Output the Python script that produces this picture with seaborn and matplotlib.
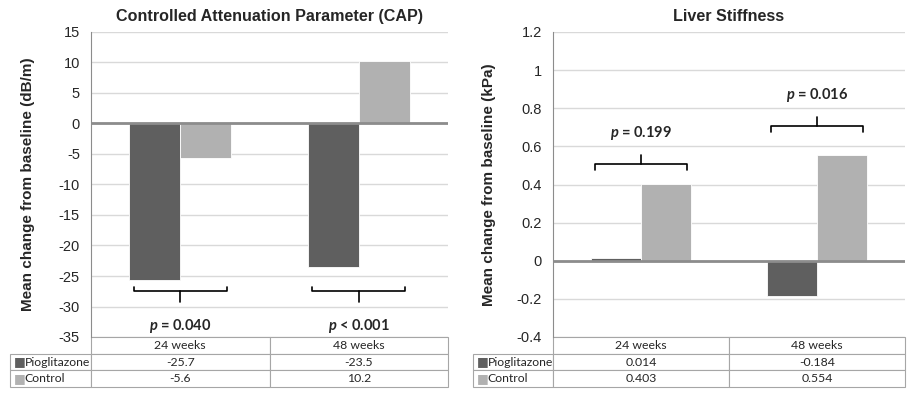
import matplotlib
matplotlib.use("Agg")
from matplotlib import pyplot as plt
import seaborn as sns
import pandas as pd

timepoints = ["24 weeks", "48 weeks"]
groups = ["Pioglitazone", "Control"]
cap_pio = [-25.7, -23.5]
cap_ctrl = [-5.6, 10.2]
ls_pio = [0.014, -0.184]
ls_ctrl = [0.403, 0.554]
cap_labels = [["-25.7", "-23.5"], ["-5.6", "10.2"]]
ls_labels = [["0.014", "-0.184"], ["0.403", "0.554"]]
cap_p = ["= 0.040", "< 0.001"]
ls_p = ["= 0.199", "= 0.016"]

sns.set_style("white")
plt.rcParams["font.family"] = ["Liberation Sans", "DejaVu Sans"]
plt.rcParams["mathtext.fontset"] = "custom"
plt.rcParams["mathtext.bfit"] = "Lato:italic:bold"
plt.rcParams["mathtext.it"] = "Lato:italic"
plt.rcParams["mathtext.rm"] = "Lato"

colors = {"Pioglitazone": "#5f5f5f", "Control": "#b1b1b1"}


def make_df(pio, ctrl):
    rows = []
    for i, t in enumerate(timepoints):
        rows.append({"Time": t, "Group": "Pioglitazone", "Value": pio[i]})
        rows.append({"Time": t, "Group": "Control", "Value": ctrl[i]})
    return pd.DataFrame(rows)


def draw_panel(ax, df, title, ylabel, ylim, step, table_text, pvals, brk, lab_w, lpad):
    sns.barplot(data=df, x="Time", y="Value", hue="Group", palette=colors,
                hue_order=groups, width=0.57, edgecolor="white", linewidth=0.6,
                ax=ax, legend=False)
    ax.set_xlim(-0.5, 1.5)
    ax.set_ylim(*ylim)
    ticks = []
    v = ylim[0]
    while v <= ylim[1] + 1e-9:
        ticks.append(round(v, 2))
        v += step
    ax.set_yticks(ticks)
    ax.set_yticklabels([("%g" % t) for t in ticks], fontsize=10.5)
    ax.tick_params(axis="y", length=0, pad=8)
    ax.set_xticks([])
    ax.set_xlabel("")
    ax.grid(axis="y", color="#d9d9d9", linewidth=1)
    ax.set_axisbelow(True)
    ax.axhline(0, color="#8c8c8c", linewidth=2, zorder=3)
    for s in ["top", "right", "bottom"]:
        ax.spines[s].set_visible(False)
    ax.spines["left"].set_color("#8c8c8c")
    ax.set_title(title, fontsize=11.6, fontweight="bold", pad=8)
    ax.set_ylabel(ylabel, fontsize=11, fontweight="bold", labelpad=lpad)

    # significance brackets
    y0, arm, tick, ty = brk
    for i, p in enumerate(pvals):
        y = y0[i]
        ax.plot([i - 0.26, i - 0.26, i + 0.26, i + 0.26],
                [y + arm, y, y, y + arm], color="black", lw=1.2,
                solid_joinstyle="round", clip_on=False, zorder=5)
        ax.plot([i, i], [y, y + tick], color="black", lw=1.2, clip_on=False, zorder=5)
        ax.text(i, ty[i], r"$\bfit{p}$ " + p, ha="center", va="center",
                fontsize=10.5, fontweight="bold", family=["Lato", "DejaVu Sans"])

    # data table
    cell = [[""] + timepoints,
            ["Pioglitazone"] + table_text[0],
            ["Control"] + table_text[1]]
    tbl = ax.table(cellText=cell, colWidths=[lab_w, 0.5, 0.5],
                   bbox=[-lab_w, -0.164, 1 + lab_w, 0.164], cellLoc="center")
    tbl.auto_set_font_size(False)
    for (r, c), ce in tbl.get_celld().items():
        ce.set_edgecolor("#a6a6a6")
        ce.set_linewidth(0.8)
        ce.get_text().set_fontsize(8.8)
        ce.get_text().set_family(["Lato", "DejaVu Sans"])
        if r == 0 and c == 0:
            ce.visible_edges = ""
        if c == 0 and r > 0:
            ce.get_text().set_ha("left")
            ce.PAD = 0.18
    for r, g in enumerate(groups):
        yc = -0.164 * (1.5 + r) / 3
        ax.text(-lab_w + 0.01, yc, "\u25a0", color=colors[g], fontsize=9,
                ha="left", va="center", transform=ax.transAxes,
                family=["DejaVu Sans"])


fig = plt.figure(figsize=(9.11, 3.94), dpi=100)
ax1 = fig.add_axes([91 / 911, 1 - 337 / 394, 357 / 911, 305 / 394])
ax2 = fig.add_axes([553 / 911, 1 - 337 / 394, 352 / 911, 305 / 394])

draw_panel(ax1, make_df(cap_pio, cap_ctrl),
           "Controlled Attenuation Parameter (CAP)",
           "Mean change from baseline (dB/m)", (-35, 15), 5, cap_labels, cap_p,
           ([-27.5, -27.5], 0.7, -1.8, [-33.2, -33.2]), 81 / 357, 17)
draw_panel(ax2, make_df(ls_pio, ls_ctrl),
           "Liver Stiffness",
           "Mean change from baseline (kPa)", (-0.4, 1.2), 0.2, ls_labels, ls_p,
           ([0.507, 0.706], -0.03, 0.05, [0.67, 0.87]), 80 / 352, 15)

fig.savefig("out.png", dpi=100)
